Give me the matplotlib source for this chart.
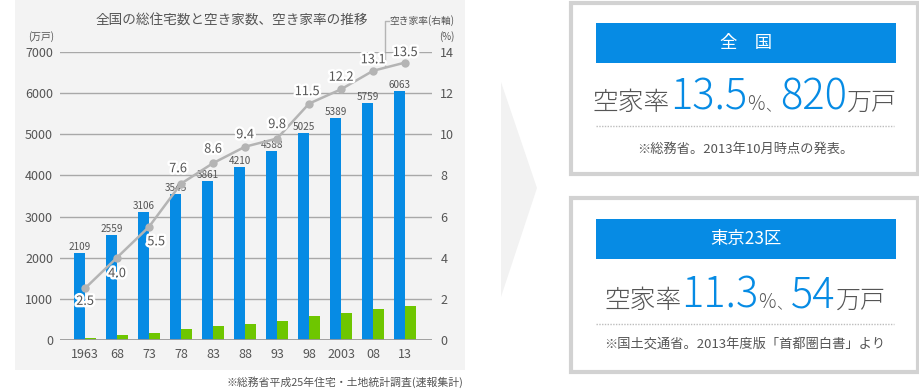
import matplotlib
matplotlib.use("Agg")
import matplotlib.pyplot as plt
import matplotlib.patheffects as pe
from matplotlib.patches import Rectangle, Polygon
import numpy as np

plt.rcParams["font.family"] = ["Noto Sans CJK JP", "DejaVu Sans"]

years = ["1963", "68", "73", "78", "83", "88", "93", "98", "2003", "08", "13"]
total_houses = [2109, 2559, 3106, 3545, 3861, 4210, 4588, 5025, 5389, 5759, 6063]
vacant_houses = [52, 103, 172, 268, 330, 394, 448, 576, 659, 757, 820]
vacancy_rate = [2.5, 4.0, 5.5, 7.6, 8.6, 9.4, 9.8, 11.5, 12.2, 13.1, 13.5]
left_ticks = [0, 1000, 2000, 3000, 4000, 5000, 6000, 7000]
right_ticks = [0, 2, 4, 6, 8, 10, 12, 14]

# label offsets for rate labels (pixels)
rate_dx = [0, 0, 7, -3, 0, 0, 0, -2, 0, 0, 0]
rate_dy = [-13, -16, -15, 15, 14, 12, 14, 12, 12, 11, 10]

BLUE = "#068be4"
GREEN = "#6ec600"
LINE = "#b4b4b4"
TXT = "#555555"

W, H = 920, 391
fig = plt.figure(figsize=(W / 100, H / 100), dpi=100)
fig.patch.set_facecolor("white")

# background canvas in pixel coordinates
bg = fig.add_axes([0, 0, 1, 1])
bg.set_xlim(0, W)
bg.set_ylim(H, 0)
bg.axis("off")

bg.add_patch(Rectangle((15, 0), 450, 370, color="#f3f3f3", lw=0))
bg.add_patch(Polygon([(501, 82), (537, 188), (501, 297)], closed=True,
                     color="#f2f2f2", lw=0))

bg.text(232, 21, "全国の総住宅数と空き家数、空き家率の推移", fontsize=9.8,
        color=TXT, ha="center", va="center")
bg.text(389, 21, "空き家率(右軸)", fontsize=7, color=TXT, ha="left", va="center")
bg.plot([389, 385, 385], [21, 21, 66], color=LINE, lw=1)
bg.text(41, 37, "(万戸)", fontsize=7, color=TXT, ha="center", va="center")
bg.text(447, 37, "(%)", fontsize=7, color=TXT, ha="center", va="center")
bg.text(463, 382, "※総務省平成25年住宅・土地統計調査(速報集計)", fontsize=7.8,
        color=TXT, ha="right", va="center")

# ---- chart ----
x0, x1 = 60, 432
y0, y1 = 339.7, 52.3
ax = fig.add_axes([x0 / W, (H - y0) / H, (x1 - x0) / W, (y0 - y1) / H])
ax.patch.set_visible(False)
x = np.arange(len(years))
bw = 0.34
ax.bar(x - bw / 2, total_houses, width=bw, color=BLUE, zorder=2)
ax.bar(x + bw / 2, vacant_houses, width=bw, color=GREEN, zorder=2)
for xi, v in zip(x, total_houses):
    ax.annotate(str(v), (xi - bw / 2, v), xytext=(0, 1), textcoords="offset pixels",
                ha="center", va="bottom", fontsize=7.2, color=TXT, zorder=4)
ax.set_xlim(-0.78, 10.84)
ax.set_ylim(0, 7000)
ax.set_yticks(left_ticks)
ax.set_yticklabels([str(t) for t in left_ticks])
ax.set_xticks(x)
ax.set_xticklabels(years)
ax.tick_params(length=0, labelsize=9, colors=TXT)
ax.tick_params(axis="y", pad=5)
ax.tick_params(axis="x", pad=6)
ax.grid(axis="y", color="#a8a8a8", lw=1, zorder=1)
ax.axhline(0, color="#9a9a9a", lw=2, zorder=3)
for s in ax.spines.values():
    s.set_visible(False)

ax2 = ax.twinx()
ax2.set_ylim(0, 14)
ax2.set_yticks(right_ticks)
ax2.set_yticklabels([str(t) for t in right_ticks])
ax2.tick_params(length=0, labelsize=9, colors=TXT, pad=6)
for s in ax2.spines.values():
    s.set_visible(False)
ax2.plot(x, vacancy_rate, color=LINE, lw=1.8, marker="o", ms=5,
         mfc=LINE, mec=LINE, zorder=3)
for xi, v, dx, dy in zip(x, vacancy_rate, rate_dx, rate_dy):
    ax2.annotate(f"{v:.1f}", (xi, v), xytext=(dx, dy), textcoords="offset pixels",
                 ha="center", va="center", fontsize=9.2, color=TXT, zorder=5,
                 path_effects=[pe.withStroke(linewidth=3.5, foreground="white")])

# ---- info boxes ----
def info_box(top, bottom, head, head_top, big_parts, base_y, dot_y, note, note_y):
    bg.add_patch(Rectangle((571, top), 347, bottom - top, fill=False,
                           ec="#d2d2d2", lw=3))
    bg.add_patch(Rectangle((596, head_top), 300, 40, color=BLUE, lw=0))
    bg.text(746, head_top + 20, head, fontsize=12.5, color="white",
            ha="center", va="center")
    bg.plot([596, 894], [dot_y, dot_y], color="#bdbdbd", lw=1, ls=(0, (1, 1)))
    bg.text(745, note_y, note, fontsize=9.5, color=TXT, ha="center", va="center")
    # rich text line: (text, size, colour) placed one after another
    fig.canvas.draw()
    r = fig.canvas.get_renderer()
    texts, cur = [], 0.0
    for s, size, col in big_parts:
        t = bg.text(cur, base_y, s, fontsize=size, color=col, ha="left",
                    va="baseline", fontweight="light")
        w = t.get_window_extent(r).width
        texts.append((t, cur))
        cur += w
    shift = 745 - cur / 2
    for t, px in texts:
        t.set_x(px + shift)

info_box(3, 174, "全　国", 23,
         [("空家率", 18.5, TXT), ("13.5", 30, BLUE), ("%", 14, TXT),
          ("、", 11, TXT), ("820", 30, BLUE), ("万戸", 18, TXT)],
         110, 126, "※総務省。2013年10月時点の発表。", 149)
info_box(198, 372, "東京23区", 219,
         [("空家率", 18.5, TXT), ("11.3", 30, BLUE), ("%", 14, TXT),
          ("、", 11, TXT), ("54", 30, BLUE), ("万戸", 18, TXT)],
         308, 324, "※国土交通省。2013年度版「首都圏白書」より", 345)

fig.savefig("out.png", dpi=100)
